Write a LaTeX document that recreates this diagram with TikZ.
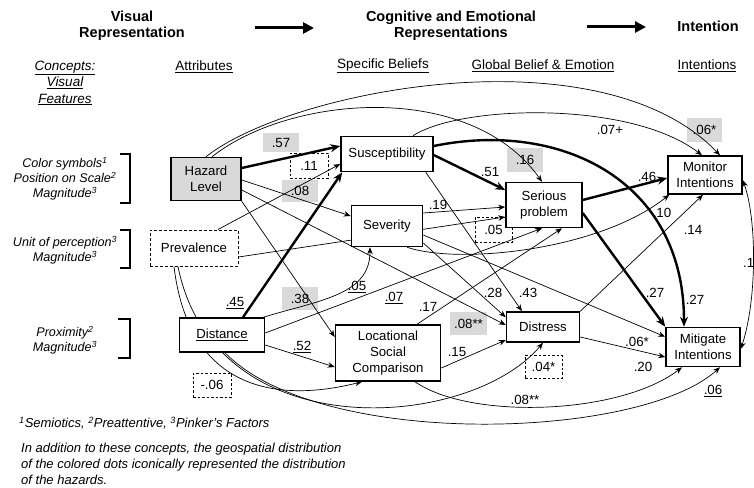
\documentclass[tikz,border=0pt]{standalone}
\usepackage{fontspec}
\setmainfont{Liberation Sans}
\usetikzlibrary{arrows.meta,calc}
\pgfdeclarelayer{labs}
\pgfdeclarelayer{edges}
\pgfsetlayers{labs,edges,main}
\begin{document}
\begin{tikzpicture}[x=1pt,y=-1pt,
  box/.style={draw, line width=1.5pt, fill=white, align=center, inner sep=0pt, font=\fontsize{13.2}{16}\selectfont},
  lab/.style={font=\fontsize{13.3}{14}\selectfont, inner sep=0pt},
  glab/.style={lab, fill=black!15, minimum width=36pt, minimum height=22pt},
  dlab/.style={lab, draw, dash pattern=on 2.5pt off 2pt, line width=0.8pt, minimum width=37pt, minimum height=24pt},
  ar/.style={-{Stealth[length=7pt,width=5.5pt]}, line width=0.7pt},
  tar/.style={-{Stealth[length=10pt,width=8pt]}, line width=2.4pt},
  hd/.style={font=\fontsize{14.5}{16.5}\selectfont\bfseries, align=center},
  sub/.style={font=\fontsize{13.5}{16.5}\selectfont, align=center},
  con/.style={font=\fontsize{12.6}{15}\selectfont\itshape, align=center},
  brk/.style={line width=1.1pt},
]
\useasboundingbox (0,0) rectangle (754,487);

% headers
\node[hd] (h1) at (132,26) {Visual\\Representation};
\node[hd] (h2) at (451,26) {Cognitive and Emotional\\Representations};
\node[hd] (h3) at (708,26) {Intention};
\coordinate (a1s) at (255,28); \coordinate (a1e) at (314,28);
\coordinate (a2s) at (587,27); \coordinate (a2e) at (646,27);
\draw[line width=3pt, -{Triangle[length=11pt,width=11pt]}] (a1s) -- (a1e);
\draw[line width=3pt, -{Triangle[length=11pt,width=11pt]}] (a2s) -- (a2e);

% sub headers
\node[sub] (s1) at (65,83) {\itshape\underline{Concepts:}\\\itshape\underline{Visual}\\\itshape\underline{Features}};
\node[sub] (s2) at (204,67) {\underline{Attributes}};
\node[sub] (s3) at (383,66) {\underline{Specific Beliefs}};
\node[sub] (s4) at (543,66) {\underline{Global Belief \& Emotion}};
\node[sub] (s5) at (707,66) {\underline{Intentions}};

% concepts
\node[con] (c1) at (65,179) {Color symbols\textsuperscript{1}\\Position on Scale\textsuperscript{2}\\Magnitude\textsuperscript{3}};
\node[con] (c2) at (65,250) {Unit of perception\textsuperscript{3}\\Magnitude\textsuperscript{3}};
\node[con] (c3) at (65,340) {Proximity\textsuperscript{2}\\Magnitude\textsuperscript{3}};
\draw[brk] (120,154) -- (130,154) -- (130,203) -- (120,203);
\draw[brk] (120,230) -- (130,230) -- (130,268) -- (120,268);
\draw[brk] (118,319) -- (130,319) -- (130,358) -- (118,358);

% footnotes
\node[anchor=west, font=\fontsize{13}{15}\selectfont\itshape, inner sep=0pt] (fn1) at (19,423) {\textsuperscript{1}Semiotics, \textsuperscript{2}Preattentive, \textsuperscript{3}Pinker's Factors};
\node[anchor=west, align=left, font=\fontsize{13}{16}\selectfont\itshape, inner sep=0pt] (fn2) at (21,464) {In addition to these concepts, the geospatial distribution\\of the colored dots iconically represented the distribution\\of the hazards.};

% main nodes
\node[box, fill=black!15, minimum width=70pt, minimum height=43pt] (hz) at (206,179) {Hazard\\Level};
\node[box, dash pattern=on 3pt off 2pt, line width=1pt, minimum width=88pt, minimum height=36pt] (prev) at (194,248) {Prevalence};
\node[box, minimum width=85pt, minimum height=34pt] (distn) at (222,335) {\underline{Distance}};
\node[box, minimum width=92pt, minimum height=35pt] (susc) at (387,154) {Susceptibility};
\node[box, minimum width=71pt, minimum height=41pt] (sev) at (387,226) {Severity};
\node[box, minimum width=105pt, minimum height=56pt] (loc) at (388,353) {Locational\\Social\\Comparison};
\node[box, minimum width=76pt, minimum height=45pt] (ser) at (544,205) {Serious\\problem};
\node[box, minimum width=73pt, minimum height=30pt] (dis) at (543,327) {Distress};
\node[box, minimum width=74pt, minimum height=38pt] (mon) at (705,175) {Monitor\\Intentions};
\node[box, minimum width=74pt, minimum height=39pt] (mit) at (703,347) {Mitigate\\Intentions};

% labels
\begin{pgfonlayer}{labs}
\node[glab, minimum height=19pt] (l57) at (281,142.5) {.57};
\node[dlab, minimum width=38pt, minimum height=25pt] (l11) at (309,165.5) {.11};
\node[glab] (l08) at (300,191) {.08};
\node[glab, minimum height=24pt] (l16) at (525,160) {.16};
\node[glab, minimum width=35pt, minimum height=24pt] (l06s) at (704.5,130) {.06*};
\node[lab] (l07p) at (610,130) {.07+};
\node[lab] (l51) at (490,172) {.51};
\node[lab] (l46) at (647,177) {.46};
\node[lab] (l19) at (438,205) {.19};
\node[dlab, minimum height=25pt] (l05d) at (493.5,229.5) {.05};
\node[lab] (l10) at (662,213) {.10};
\node[lab] (l14) at (693,230) {.14};
\node[lab, anchor=west] (l16r) at (743,263) {.1};
\node[lab] (l45) at (235,303) {\underline{.45}};
\node[glab, minimum height=23pt] (l38) at (300,298.5) {.38};
\node[lab] (l05u) at (357,287) {\underline{.05}};
\node[lab] (l07u) at (394,298) {\underline{.07}};
\node[lab] (l17) at (428,307) {.17};
\node[lab] (l28) at (493,293) {.28};
\node[lab] (l43) at (528,293) {.43};
\node[glab, minimum width=37pt, minimum height=23pt] (l08ss) at (468.5,323.5) {.08**};
\node[lab] (l27a) at (655,293) {.27};
\node[lab] (l27b) at (695,300) {.27};
\node[lab] (l52) at (302,347) {\underline{.52}};
\node[lab] (l15) at (457,352) {.15};
\node[dlab, minimum width=38pt] (lm06) at (212,385) {-.06};
\node[dlab, minimum height=23pt] (l04) at (543.5,366.5) {.04*};
\node[lab] (l06a) at (637,342) {.06*};
\node[lab] (l20) at (643,367) {.20};
\node[lab] (l08b) at (525,400) {.08**};
\node[lab] (l06u) at (713,391) {\underline{.06}};
\end{pgfonlayer}

% connectors
\begin{pgfonlayer}{edges}
% Hazard level
\draw[tar] ([shift={(0,-11)}]hz.east) -- ([shift={(0,-8)}]susc.west);
\draw[ar] ([shift={(0,1)}]hz.east) -- ([shift={(0,-10)}]sev.west);
\draw[ar] (hz.south east) -- ([shift={(0,-16)}]loc.west);
\draw[ar] ([shift={(0,11)}]hz.east) -- ([shift={(0,-2)}]dis.west);
\draw[ar] ([shift={(6,0)}]hz.north) .. controls (290,95) and (470,80) .. ([shift={(-2,0)}]ser.north);
\draw[ar] (hz.north) .. controls (290,90) and (600,30) .. ([shift={(15,0)}]mon.north);
% Prevalence
\draw[ar] ([shift={(24,0)}]prev.north) -- ([shift={(0,10)}]susc.west);
\draw[ar] ([shift={(0,9)}]prev.east) -- ([shift={(0,12)}]ser.west);
\draw[ar] ([shift={(-20,0)}]prev.south) .. controls (190,400) and (290,400) .. ([shift={(-26,0)}]loc.south);
\draw[ar] ([shift={(-16,0)}]prev.south) .. controls (215,450) and (470,430) .. (dis.south);
% Distance
\draw[tar] ([shift={(21,0)}]distn.north) -- ([shift={(2,0)}]susc.south west);
\draw[ar] ([shift={(-2,0)}]distn.north east) .. controls (320,300) and (370,295) .. ([shift={(-17,0)}]sev.south);
\draw[ar] ([shift={(0,-2)}]distn.east) -- ([shift={(-2,0)}]ser.south);
\draw[ar] ([shift={(0,10)}]distn.east) -- ([shift={(0,14)}]loc.west);
\draw[ar] ([shift={(3,0)}]distn.south) .. controls (320,450) and (640,440) .. ([shift={(17,0)}]mit.south);
% Susceptibility
\draw[tar] ([shift={(0,1)}]susc.east) -- ([shift={(0,-15)}]ser.west);
\draw[ar] ([shift={(26,0)}]susc.north) .. controls (460,105) and (630,100) .. ([shift={(-3,0)}]mon.north);
\draw[ar] ([shift={(-8,0)}]susc.south east) -- ([shift={(-21,0)}]dis.north);
\draw[tar] ([shift={(0,-8)}]susc.east) .. controls (560,120) and (684,180) .. ([shift={(-19,0)}]mit.north);
% Severity
\draw[ar] ([shift={(0,-13)}]sev.east) -- ([shift={(0,2)}]ser.west);
\draw[ar] ([shift={(0,17)}]sev.east) -- ([shift={(0,6)}]dis.north west);
\draw[ar] ([shift={(20,0)}]sev.south) .. controls (460,265) and (600,250) .. ([shift={(2,0)}]mon.south west);
\draw[ar] ([shift={(0,9)}]sev.east) -- ([shift={(0,10)}]mit.north west);
% Locational social comparison
\draw[ar] ([shift={(29,0)}]loc.north) -- ([shift={(18,0)}]ser.south);
\draw[ar] ([shift={(0,15)}]loc.east) -- ([shift={(0,13)}]dis.west);
\draw[ar] ([shift={(27,0)}]loc.south) .. controls (470,420) and (620,415) .. ([shift={(-21,0)}]mit.south);
% Serious problem
\draw[tar] ([shift={(0,-5)}]ser.east) -- ([shift={(0,3)}]mon.west);
\draw[tar] ([shift={(0,8)}]ser.east) -- (mit.north west);
% Distress
\draw[ar] (dis.north east) -- ([shift={(-2,0)}]mon.south);
\draw[ar] ([shift={(0,10)}]dis.east) -- ([shift={(0,10)}]mit.west);
% Monitor <-> Mitigate
\draw[{Stealth[length=7pt,width=5.5pt]}-{Stealth[length=7pt,width=5.5pt]}, line width=0.7pt] ([shift={(0,5)}]mon.east) .. controls (757,220) and (757,300) .. ([shift={(0,2)}]mit.east);
\end{pgfonlayer}
\end{tikzpicture}
\end{document}
